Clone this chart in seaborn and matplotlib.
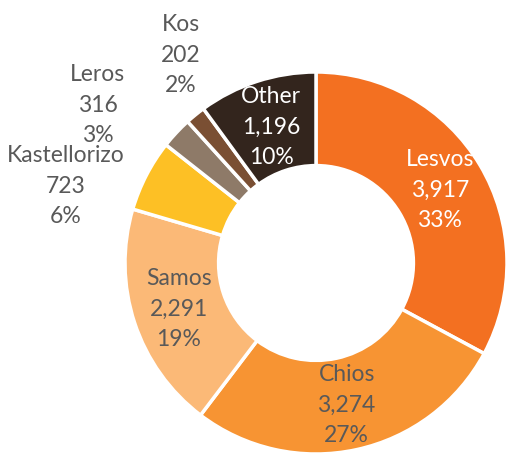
import matplotlib
matplotlib.use('Agg')
import matplotlib.pyplot as plt
import seaborn as sns
import numpy as np

sns.set_theme(style='white')
plt.rcParams['font.family'] = ['Lato', 'DejaVu Sans']

# data
islands = ['Lesvos', 'Chios', 'Samos', 'Kastellorizo', 'Leros', 'Kos', 'Other']
values = [3917, 3274, 2291, 723, 316, 202, 1196]
pcts = ['33%', '27%', '19%', '6%', '3%', '2%', '10%']

colors = ['#F37021', '#F79433', '#FBB977', '#FDC025', '#8E7A68', '#7A4F33', '#33251D']
text_colors = ['white', '#595959', '#595959', '#595959', '#595959', '#595959', 'white']
# small slices get their labels outside the ring (data coords, ring radius = 1)
outside_pos = {'Kastellorizo': (-1.309, 0.408), 'Leros': (-1.144, 0.832), 'Kos': (-0.707, 1.094)}

fig = plt.figure(figsize=(5.07, 4.56), dpi=100)
ax = fig.add_axes([0, 0, 1, 1])

wedges, _ = ax.pie(values, colors=colors, startangle=90, counterclock=False, radius=1,
                   wedgeprops=dict(width=0.49, edgecolor='white', linewidth=2.5))

for w, name, v, p, c in zip(wedges, islands, values, pcts, text_colors):
    if name in outside_pos:
        x, y = outside_pos[name]
    else:
        ang = np.deg2rad((w.theta1 + w.theta2) / 2)
        x, y = 0.755 * np.cos(ang), 0.755 * np.sin(ang)
    ax.text(x, y, f'{name}\n{v:,}\n{p}', ha='center', va='center',
            color=c, fontsize=16.5, linespacing=1.55, zorder=10)

ax.set_xlim(-316 / 191, (507 - 316) / 191)
ax.set_ylim(-192 / 191, 264 / 191)
ax.set_aspect('equal')
ax.axis('off')

fig.savefig('out.png', dpi=100)
